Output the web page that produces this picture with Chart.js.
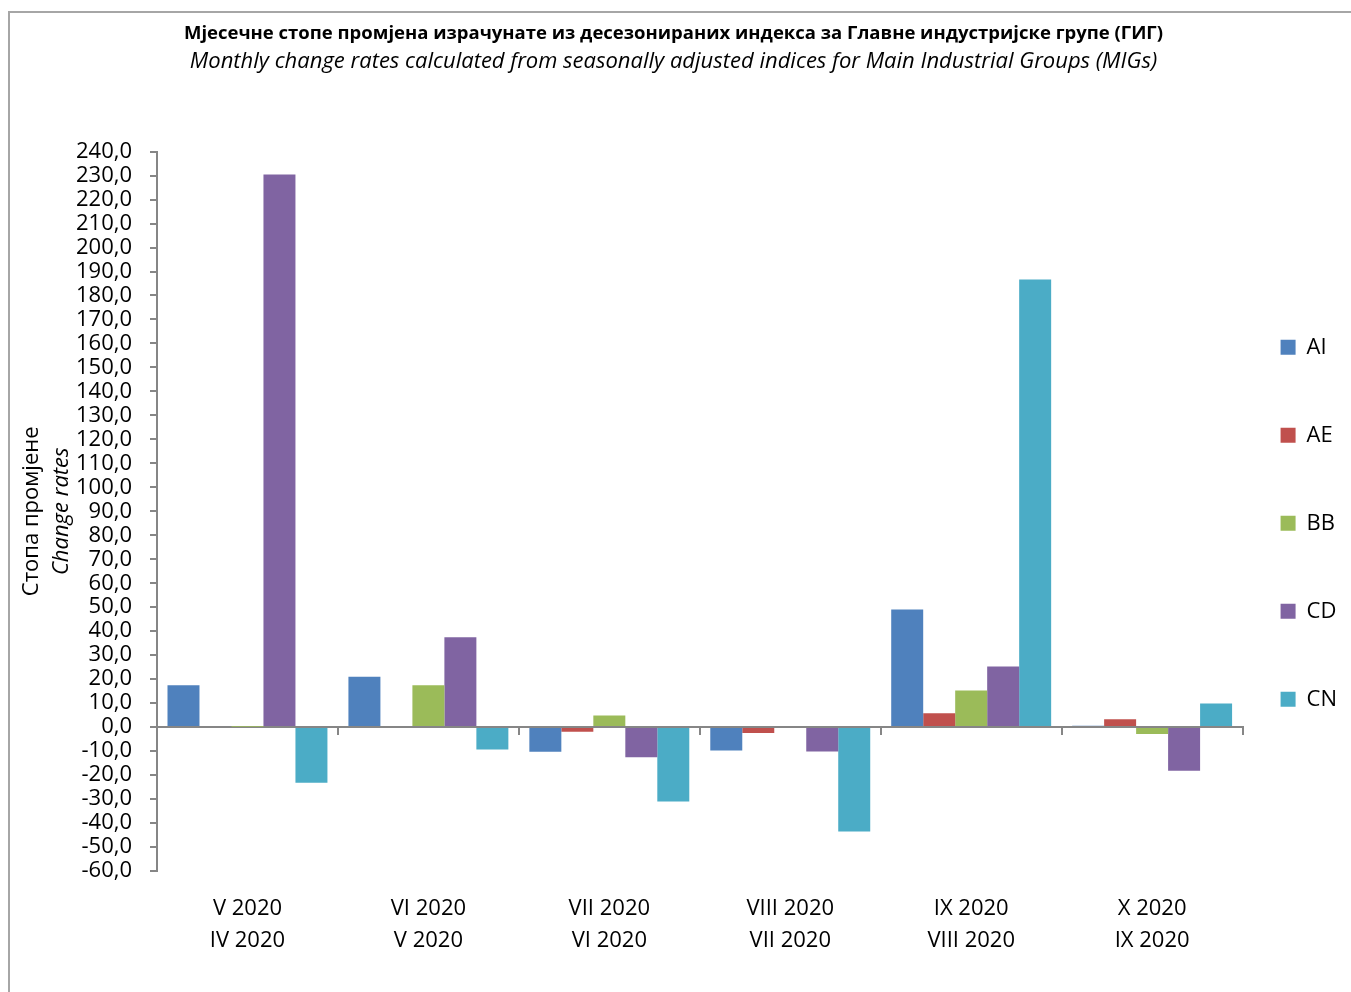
<!DOCTYPE html>
<html>
<head>
<meta charset="utf-8">
<script src="https://cdn.jsdelivr.net/npm/chart.js@4.4.1/dist/chart.umd.min.js"></script>
<style>
  html, body { margin: 0; padding: 0; background: #fff; overflow: hidden; }
  #wrap { position: relative; width: 1351px; height: 992px; }
  #frame { position: absolute; left: 8px; top: 11px; width: 1400px; height: 1100px; border: 2px solid #a6a6a6; pointer-events: none; }
</style>
</head>
<body>
<div id="wrap">
  <canvas id="chart" width="1351" height="992"></canvas>
  <div id="frame"></div>
</div>
<script>
const categories = [
  ['V 2020', 'IV 2020'],
  ['VI 2020', 'V 2020'],
  ['VII 2020', 'VI 2020'],
  ['VIII 2020', 'VII 2020'],
  ['IX 2020', 'VIII 2020'],
  ['X 2020', 'IX 2020']
]
const seriesNames = ['AI', 'AE', 'BB', 'CD', 'CN']
const aiValues = [17.5, 21.0, -10.3, -9.7, 49.0, 0.6]
const aeValues = [0.0, 0.0, -1.9, -2.5, 5.8, 3.3]
const bbValues = [0.2, 17.5, 4.8, 0.0, 15.3, -2.9]
const cdValues = [230.5, 37.5, -12.6, -10.2, 25.3, -18.2]
const cnValues = [-23.2, -9.3, -31.0, -43.5, 186.7, 9.9]
const yMin = -60
const yMax = 240
const yStep = 10

const titleText = 'Мјесечне стопе промјена израчунате из десезонираних индекса за Главне индустријске групе (ГИГ)'
const subtitleText = 'Monthly change rates calculated from seasonally adjusted indices for Main Industrial Groups (MIGs)'
const yTitleLines = ['Стопа промјене', 'Change rates']

const colors = ['#4f81bd', '#c0504d', '#9bbb59', '#8064a2', '#4bacc6']
const axisColor = '#868686'
const fontFamily = "'Open Sans', 'Noto Sans', sans-serif"

const seriesValues = [aiValues, aeValues, bbValues, cdValues, cnValues]

// two-line axis title on the left, second line in italics
const yTitlePlugin = {
  id: 'yTitle',
  afterDraw(chart) {
    const { ctx, chartArea } = chart
    const cy = (chartArea.top + chartArea.bottom) / 2
    ctx.save()
    ctx.fillStyle = '#000'
    ctx.textAlign = 'center'
    ctx.textBaseline = 'middle'
    ctx.translate(chartArea.left - 125, cy)
    ctx.rotate(-Math.PI / 2)
    ctx.font = `22px ${fontFamily}`
    ctx.fillText(yTitleLines[0], 0, 0)
    ctx.font = `italic 22px ${fontFamily}`
    ctx.fillText(yTitleLines[1], 0, 30)
    ctx.restore()
  }
}

new Chart(document.getElementById('chart'), {
  type: 'bar',
  data: {
    labels: categories,
    datasets: seriesNames.map((name, i) => ({
      label: name,
      data: seriesValues[i],
      backgroundColor: colors[i],
      borderWidth: 0
    }))
  },
  options: {
    responsive: false,
    animation: false,
    layout: { padding: { left: 0, right: 4, top: 0, bottom: 0 } },
    datasets: { bar: { categoryPercentage: 0.884, barPercentage: 1 } },
    plugins: {
      title: {
        display: true,
        text: titleText,
        color: '#000',
        font: { family: fontFamily, size: 18.5, weight: 'bold', lineHeight: 1.2 },
        padding: { top: 23, bottom: 3 }
      },
      subtitle: {
        display: true,
        text: subtitleText,
        color: '#000',
        font: { family: fontFamily, size: 22, style: 'italic', lineHeight: 1.2 },
        padding: { top: 0, bottom: 77 }
      },
      legend: {
        position: 'right',
        fullSize: false,
        title: { display: true, text: '', padding: 0, font: { lineHeight: '52px' } },
        labels: {
          color: '#000',
          boxWidth: 15,
          boxHeight: 15,
          padding: 38,
          font: { family: fontFamily, size: 22, lineHeight: '50px' },
          generateLabels(chart) {
            return Chart.defaults.plugins.legend.labels.generateLabels(chart)
              .map(item => ({ ...item, text: [item.text], lineWidth: 0 }))
          }
        }
      },
      tooltip: { enabled: false }
    },
    scales: {
      x: {
        type: 'category',
        position: 'bottom',
        grid: { display: false },
        border: { display: false },
        ticks: {
          color: '#000',
          autoSkip: false,
          maxRotation: 0,
          padding: 13,
          font: { family: fontFamily, size: 22, lineHeight: 1.48 }
        },
        afterFit(scale) { scale.height = 121 }
      },
      x0: {
        type: 'category',
        axis: 'x',
        position: { y: 0 },
        offset: true,
        grid: { offset: true, drawOnChartArea: false, drawTicks: true, tickLength: 7, color: axisColor, lineWidth: 2 },
        border: { color: axisColor, width: 2 },
        ticks: { display: false }
      },
      y: {
        min: yMin,
        max: yMax,
        grid: { drawOnChartArea: false, drawTicks: true, tickLength: 7, color: axisColor, lineWidth: 2 },
        border: { color: axisColor, width: 2 },
        ticks: {
          stepSize: yStep,
          autoSkip: false,
          color: '#000',
          padding: 18,
          font: { family: fontFamily, size: 22, lineHeight: 1 },
          callback: (v) => v.toFixed(1).replace('.', ',')
        },
        afterFit(scale) { scale.width = 157 }
      }
    }
  },
  plugins: [yTitlePlugin]
})
</script>
</body>
</html>
